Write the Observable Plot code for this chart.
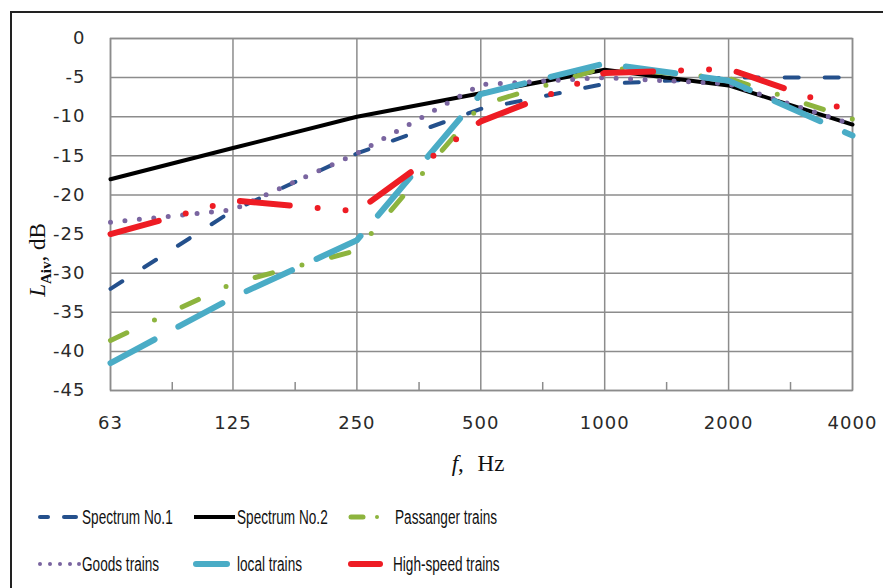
<!DOCTYPE html>
<html>
<head>
<meta charset="utf-8">
<script src="https://cdn.jsdelivr.net/npm/d3@7"></script>
<script src="https://cdn.jsdelivr.net/npm/@observablehq/plot@0.6"></script>
<style>
  html, body { margin: 0; padding: 0; background: #fff; }
  #fig { position: relative; width: 883px; height: 588px; overflow: hidden; background: #fff; }
  #border { position: absolute; left: 10px; top: 11px; width: 900px; height: 600px; border-left: 2.5px solid #222; border-top: 2.5px solid #222; }
  #chart { position: absolute; left: 0; top: 0; }
  .ylab { position: absolute; left: 40px; top: 260px; transform: translate(-50%, -50%) rotate(-90deg); font-family: "Liberation Serif", serif; font-size: 23px; white-space: nowrap; color: #111; }
  .ylab sub { font-size: 15px; font-weight: bold; }
  .xlab { position: absolute; left: 478px; top: 451px; transform: translateX(-50%); font-family: "Liberation Serif", serif; font-size: 23px; white-space: nowrap; color: #111; word-spacing: 8px; }
  .leg { position: absolute; height: 24px; }
  .leg svg { position: absolute; left: 0; top: 0; }
  .leg span { position: absolute; top: 0; font-family: "Liberation Sans", Arial, sans-serif; font-size: 20px; line-height: 24px; white-space: nowrap; transform: scaleX(0.68); transform-origin: left center; color: #111; }
</style>
</head>
<body>
<div id="fig">
  <div id="border"></div>
  <div id="chart"></div>
  <div class="ylab"><i>L</i><sub>Aiv</sub>, dB</div>
  <div class="xlab"><i>f</i>, Hz</div>
  <div id="legend"></div>
</div>
<script>
// ---- data ----
const freqs = [63, 125, 250, 500, 1000, 2000, 4000];
const minorTicks = [89, 177, 354, 707, 1414, 2828];
const yTicks = [0, -5, -10, -15, -20, -25, -30, -35, -40, -45];

const spectrum1 = [-32, -22, -14.7, -9, -5.8, -5, -5];
const spectrum2 = [-18, -14, -10, -7, -4, -6, -11];
const passenger = [-38.6, -31.3, -27.1, -8.5, -3.7, -5.1, -10.3];
const goods     = [-23.5, -21.9, -14.7, -5.9, -5.0, -5.8, -11];
const local     = [-41.5, -33.1, -25.8, -7.1, -3.2, -5.4, -12.4];
const highSpeed = [-25, -20.7, -22.1, -10.6, -4.4, -3.9, -9.4];

const seriesNames = ["Spectrum No.1", "Spectrum No.2", "Passanger trains", "Goods trains", "local trains", "High-speed trains"];
const seriesValues = [spectrum1, spectrum2, passenger, goods, local, highSpeed];

const styles = [
  {stroke: "#24508c", strokeWidth: 4, strokeDasharray: "14,26"},
  {stroke: "#000000", strokeWidth: 4, strokeDasharray: null},
  {stroke: "#8db43e", strokeWidth: 5, strokeDasharray: "18,30.5,0,30.5"},
  {stroke: "#7a65a0", strokeWidth: 5, strokeDasharray: "0,14.5"},
  {stroke: "#4aacc6", strokeWidth: 6, strokeDasharray: "50,27"},
  {stroke: "#ee1c24", strokeWidth: 6, strokeDasharray: "50,28,0,28,0,28"}
];

const rows = seriesNames.map((name, s) => freqs.map((f, i) => ({name, f, v: seriesValues[s][i]})));

const gridColor = "#8c8c8c";

const lineMarks = rows.map((data, s) => Plot.line(data, {
  x: "f", y: "v",
  stroke: styles[s].stroke,
  strokeWidth: styles[s].strokeWidth,
  strokeDasharray: styles[s].strokeDasharray,
  strokeLinecap: "round",
  strokeLinejoin: "round"
}));

const chart = Plot.plot({
  width: 883,
  height: 480,
  marginLeft: 110,
  marginRight: 31,
  marginTop: 38,
  marginBottom: 90,
  style: {fontFamily: "DejaVu Sans", fontSize: "18px", letterSpacing: "1px", color: "#2a2a2a", background: "transparent"},
  x: {type: "log", domain: [63, 4000], axis: null},
  y: {domain: [-45, 0]},
  marks: [
    Plot.gridY({ticks: yTicks, stroke: gridColor, strokeOpacity: 1, strokeWidth: 1.5}),
    Plot.ruleX(freqs, {x: d => d, stroke: gridColor, strokeWidth: 1.5}),
    Plot.ruleX(minorTicks, {x: d => d, stroke: gridColor, strokeWidth: 1.5, insetTop: 344}),
    Plot.frame({stroke: gridColor, strokeWidth: 1.5}),
    Plot.axisY({ticks: yTicks, tickSize: 0, tickPadding: 25, label: null, fontSize: 18, tickFormat: d => String(d)}),
    Plot.text(freqs, {x: d => d, text: d => String(d), frameAnchor: "bottom", lineAnchor: "top", dy: 26, fontSize: 18, fill: "#2a2a2a"}),
    ...lineMarks
  ]
});
document.getElementById("chart").appendChild(chart);

// ---- legend ----
const legendPos = [
  {x: 38, y: 505, tx: 82},
  {x: 193, y: 505, tx: 237},
  {x: 348, y: 505, tx: 395},
  {x: 38, y: 552, tx: 82},
  {x: 193, y: 552, tx: 237},
  {x: 348, y: 552, tx: 393}
];
const legendSamples = [
  '<line x1="2" y1="12" x2="10" y2="12" stroke="#24508c" stroke-width="4" stroke-linecap="round"/><line x1="26" y1="12" x2="38" y2="12" stroke="#24508c" stroke-width="4" stroke-linecap="round"/>',
  '<line x1="1" y1="12" x2="42" y2="12" stroke="#000" stroke-width="4"/>',
  '<line x1="3" y1="12" x2="15" y2="12" stroke="#8db43e" stroke-width="5" stroke-linecap="round"/><circle cx="29" cy="12" r="2" fill="#8db43e"/>',
  '<circle cx="2" cy="12" r="2" fill="#7a65a0"/><circle cx="12" cy="12" r="2" fill="#7a65a0"/><circle cx="22" cy="12" r="2" fill="#7a65a0"/><circle cx="32" cy="12" r="2" fill="#7a65a0"/><circle cx="41" cy="12" r="2" fill="#7a65a0"/>',
  '<line x1="3" y1="12" x2="34" y2="12" stroke="#4aacc6" stroke-width="6" stroke-linecap="round"/>',
  '<line x1="3" y1="12" x2="32" y2="12" stroke="#ee1c24" stroke-width="6" stroke-linecap="round"/>'
];
const legend = document.getElementById("legend");
seriesNames.forEach((name, i) => {
  const p = legendPos[i];
  const el = document.createElement("div");
  el.className = "leg";
  el.style.left = p.x + "px";
  el.style.top = p.y + "px";
  el.innerHTML = `<svg width="46" height="24">${legendSamples[i]}</svg><span style="left:${p.tx - p.x}px">${name}</span>`;
  legend.appendChild(el);
});
</script>
</body>
</html>
